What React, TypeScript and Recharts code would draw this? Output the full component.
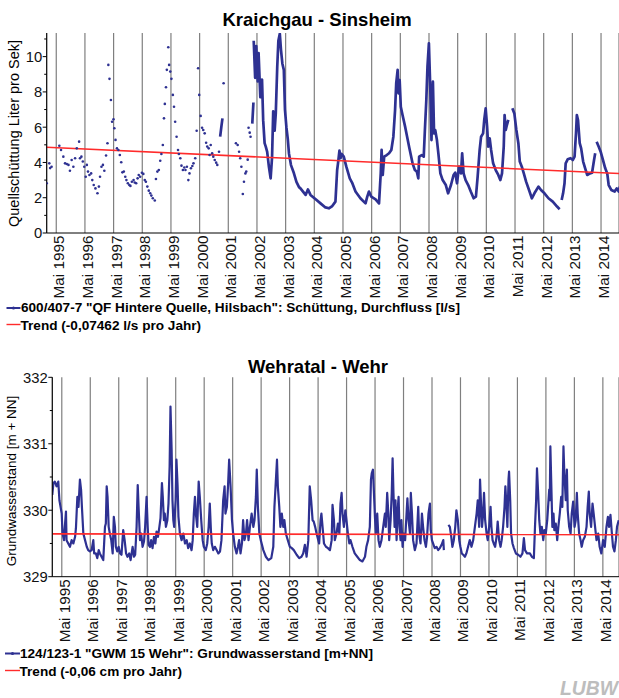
import React from 'react';
import { ComposedChart, Line, XAxis, YAxis, CartesianGrid } from 'recharts';

const BLUE = '#2e3192';
const RED = '#ff2b2b';
const GRID = '#7f7f7f';
const FONT = '"Liberation Sans", Arial, Helvetica, sans-serif';

// ---- axis / tick data ----
const tickYears = [1995, 1996, 1997, 1998, 1999, 2000, 2001, 2002, 2003, 2004, 2005, 2006, 2007, 2008, 2009, 2010, 2011, 2012, 2013, 2014];
const tickLabels = tickYears.map((y) => `Mai ${y}`);
const mayTicks = tickYears.map((y) => y + 4 / 12);

const kYTicks = [0, 1, 2, 3, 4, 5, 6, 7, 8, 9, 10, 11];
const kYLabelled = [0, 2, 4, 6, 8, 10];
const wYTicks = [329, 329.5, 330, 330.5, 331, 331.5, 332];
const wYLabelled = [329, 330, 331, 332];

// ---- Kraichgau - Sinsheim: single measurements (dots) ----
const kraichgauDots: [number, number][] = [
  [1995.0, 2.82], [1995.09, 3.95], [1995.12, 3.68], [1995.17, 3.76], [1995.44, 4.95], [1995.5, 4.71], [1995.58, 4.33],
  [1995.64, 3.95], [1995.7, 3.91], [1995.76, 3.86], [1995.81, 3.53], [1995.87, 4.14], [1995.93, 3.76], [1995.99, 4.24],
  [1996.05, 4.8], [1996.13, 5.18], [1996.16, 4.24], [1996.21, 4.33], [1996.26, 4.05], [1996.31, 3.76], [1996.36, 3.19],
  [1996.4, 3.86], [1996.44, 3.48], [1996.49, 3.29], [1996.55, 3.38], [1996.59, 3.0], [1996.64, 2.72], [1996.7, 2.53],
  [1996.77, 2.25], [1996.82, 2.63], [1996.86, 3.19], [1996.91, 3.76], [1996.96, 3.86], [1997.01, 3.53], [1997.07, 4.39],
  [1997.12, 5.09], [1997.15, 9.53], [1997.19, 8.74], [1997.24, 7.54], [1997.28, 6.31], [1997.33, 6.45], [1997.36, 5.94],
  [1997.4, 5.28], [1997.45, 4.8], [1997.5, 4.71], [1997.55, 4.42], [1997.6, 4.01], [1997.64, 3.44], [1997.69, 3.48],
  [1997.74, 3.19], [1997.78, 3.0], [1997.83, 2.82], [1997.88, 2.72], [1997.92, 2.67], [1997.97, 2.91], [1998.03, 3.0],
  [1998.07, 2.86], [1998.12, 2.82], [1998.17, 3.1], [1998.21, 3.29], [1998.26, 3.19], [1998.32, 3.42], [1998.37, 3.35],
  [1998.42, 3.0], [1998.46, 2.91], [1998.51, 2.63], [1998.56, 2.4], [1998.61, 2.25], [1998.65, 2.12], [1998.7, 1.97],
  [1998.77, 1.84], [1998.81, 3.06], [1998.86, 3.48], [1998.91, 3.57], [1998.96, 4.1], [1999.0, 4.48], [1999.05, 4.99],
  [1999.09, 6.5], [1999.12, 7.32], [1999.16, 8.26], [1999.19, 9.25], [1999.24, 10.53], [1999.27, 9.53], [1999.31, 9.15],
  [1999.35, 8.74], [1999.4, 7.83], [1999.44, 7.16], [1999.48, 6.31], [1999.53, 5.46], [1999.58, 4.71], [1999.61, 4.48],
  [1999.66, 4.24], [1999.7, 3.82], [1999.75, 3.57], [1999.8, 3.71], [1999.84, 3.57], [1999.89, 3.76], [1999.94, 3.0],
  [1999.98, 3.38], [2000.03, 3.67], [2000.08, 3.8], [2000.12, 3.95], [2000.18, 4.24], [2000.23, 5.8], [2000.28, 9.34],
  [2000.32, 7.83], [2000.37, 6.64], [2000.42, 5.97], [2000.46, 5.84], [2000.51, 5.65], [2000.56, 5.12], [2000.6, 4.9],
  [2000.65, 4.8], [2000.68, 4.42], [2000.72, 4.99], [2000.77, 4.52], [2000.81, 4.33], [2000.86, 4.14], [2000.91, 3.99],
  [2000.95, 3.86], [2001.01, 4.61], [2001.17, 8.49], [2001.6, 5.09], [2001.66, 4.99], [2001.71, 4.61], [2001.75, 4.24],
  [2001.79, 3.76], [2001.84, 2.21], [2001.88, 2.91], [2001.93, 3.38], [2001.96, 3.48], [2002.01, 4.16], [2002.04, 5.97],
  [2002.08, 5.69], [2002.11, 5.46],
];

// ---- Kraichgau - Sinsheim: continuous record (null = gap) ----
const kraichgauLine: [number, number | null][] = [
  [2001.05, 5.46], [2001.09, 6.0], [2001.13, 6.5], [2001.15, null],
  [2002.17, 6.2], [2002.21, 7.4], [2002.215, null],
  [2002.22, 10.9], [2002.27, 8.8], [2002.31, 10.6], [2002.36, 8.6], [2002.39, 10.2], [2002.45, 7.7], [2002.51, 8.7],
  [2002.55, 6.4], [2002.6, 5.1], [2002.64, 4.9], [2002.69, 4.6], [2002.75, 3.75], [2002.81, 3.1], [2002.86, 4.3],
  [2002.9, 6.9], [2002.95, 5.8], [2002.99, 6.8], [2003.04, 9.4], [2003.08, 10.9], [2003.13, 11.3], [2003.17, 10.4],
  [2003.22, 9.6], [2003.27, 9.25], [2003.31, 7.0], [2003.36, 6.0], [2003.41, 5.3], [2003.45, 4.5], [2003.52, 3.85],
  [2003.62, 3.4], [2003.71, 2.9], [2003.8, 2.6], [2003.85, 2.53], [2004.03, 2.16], [2004.11, 2.47], [2004.2, 2.16],
  [2004.38, 1.91], [2004.55, 1.68], [2004.72, 1.45], [2004.84, 1.4], [2004.96, 1.53], [2005.07, 1.78], [2005.13, 3.57],
  [2005.16, 3.95], [2005.21, 4.67], [2005.25, 4.24], [2005.29, 4.48], [2005.36, 4.33], [2005.45, 3.76], [2005.57, 3.1],
  [2005.65, 2.86], [2005.77, 2.35], [2005.94, 1.97], [2006.12, 1.68], [2006.18, 2.06], [2006.24, 2.35], [2006.32, 2.06],
  [2006.47, 1.91], [2006.59, 1.68], [2006.65, 3.38], [2006.68, 4.71], [2006.72, 3.29], [2006.77, 4.33], [2006.86, 4.42],
  [2006.94, 4.52], [2007.02, 4.71], [2007.09, 5.46], [2007.15, 6.97], [2007.19, 8.49], [2007.24, 9.25], [2007.27, 7.92],
  [2007.31, 8.67], [2007.35, 7.16], [2007.41, 6.69], [2007.5, 6.03], [2007.57, 5.46], [2007.65, 4.8], [2007.76, 3.95],
  [2007.84, 3.57], [2007.91, 3.48], [2007.96, 3.1], [2007.99, 4.33], [2008.08, 4.42], [2008.15, 4.33], [2008.19, 5.84],
  [2008.24, 7.54], [2008.28, 9.43], [2008.33, 10.76], [2008.38, 8.11], [2008.42, 5.27], [2008.47, 8.58], [2008.51, 5.65],
  [2008.55, 5.84], [2008.61, 5.27], [2008.66, 4.52], [2008.73, 3.38], [2008.81, 3.0], [2008.92, 2.72], [2009.0, 2.25],
  [2009.1, 2.72], [2009.19, 3.29], [2009.25, 3.42], [2009.31, 2.82], [2009.38, 3.76], [2009.45, 3.38], [2009.49, 4.52],
  [2009.54, 3.38], [2009.61, 3.0], [2009.7, 2.72], [2009.79, 2.35], [2009.89, 1.97], [2009.97, 2.06], [2010.03, 3.19],
  [2010.1, 4.71], [2010.15, 5.46], [2010.22, 5.65], [2010.26, 6.41], [2010.31, 7.07], [2010.36, 6.03], [2010.4, 4.9],
  [2010.45, 5.37], [2010.5, 4.71], [2010.57, 3.95], [2010.66, 3.57], [2010.75, 3.29], [2010.82, 3.0], [2010.88, 3.38],
  [2010.94, 4.9], [2010.97, 6.69], [2011.01, 5.84], [2011.05, 6.12], [2011.1, 6.41], [2011.17, null],
  [2011.24, 7.07], [2011.31, 6.78], [2011.38, 5.84], [2011.45, 5.09], [2011.5, 4.05], [2011.57, 3.76], [2011.64, 3.38],
  [2011.72, 2.91], [2011.84, 2.35], [2011.92, 1.97], [2012.01, 2.25], [2012.15, 2.63], [2012.24, 2.44], [2012.36, 2.25],
  [2012.5, 1.97], [2012.65, 1.78], [2012.8, 1.5], [2012.89, 1.35], [2012.92, null],
  [2012.96, 1.87], [2013.01, 2.25], [2013.06, 2.82], [2013.1, 3.95], [2013.17, 4.18], [2013.27, 4.24], [2013.35, 4.14],
  [2013.41, 4.33], [2013.46, 5.65], [2013.49, 6.69], [2013.53, 6.41], [2013.59, 5.09], [2013.64, 4.8], [2013.71, 4.05],
  [2013.78, 3.67], [2013.85, 3.29], [2013.95, 3.38], [2014.02, 3.42], [2014.09, 4.14], [2014.13, 4.52], [2014.155, null],
  [2014.18, 5.18], [2014.25, 4.9], [2014.32, 4.61], [2014.4, 4.14], [2014.48, 3.67], [2014.55, 3.38], [2014.6, 2.72],
  [2014.69, 2.44], [2014.81, 2.35], [2014.88, 2.53], [2014.95, 2.35], [2014.99, 2.63],
];

const kraichgauTrend: [number, number][] = [[1995.0, 4.86], [2014.96, 3.37]];

// ---- Wehratal - Wehr groundwater level ----
const wehrLine: [number, number | null][] = [
  [1995.0, 330.23], [1995.04, 330.41], [1995.09, 330.43], [1995.15, 330.36], [1995.21, 330.43], [1995.25, 330.15],
  [1995.27, 330.1], [1995.33, 329.95], [1995.36, 329.65], [1995.41, 329.55], [1995.44, 329.75], [1995.48, 329.98],
  [1995.5, 329.55], [1995.56, 329.5], [1995.62, 329.45], [1995.68, 329.55], [1995.74, 329.5], [1995.8, 329.6],
  [1995.83, 329.73], [1995.88, 330.2], [1995.92, 330.05], [1995.97, 330.46], [1996.01, 330.31], [1996.04, 330.05],
  [1996.09, 329.65], [1996.15, 329.55], [1996.21, 329.45], [1996.26, 329.4], [1996.32, 329.38], [1996.38, 329.4],
  [1996.44, 329.55], [1996.47, 329.35], [1996.53, 329.35], [1996.58, 329.28], [1996.63, 329.4], [1996.67, 329.35],
  [1996.73, 329.3], [1996.79, 329.25], [1996.85, 329.75], [1996.88, 329.8], [1996.91, 330.36], [1996.94, 330.2],
  [1996.98, 329.75], [1997.02, 329.65], [1997.07, 329.55], [1997.12, 329.35], [1997.16, 329.9], [1997.2, 329.75],
  [1997.23, 329.45], [1997.28, 329.38], [1997.33, 329.45], [1997.38, 329.35], [1997.43, 329.33], [1997.49, 329.7],
  [1997.54, 329.55], [1997.59, 329.35], [1997.64, 329.3], [1997.7, 329.35], [1997.75, 329.25], [1997.82, 329.45],
  [1997.87, 329.3], [1997.91, 329.33], [1997.96, 329.75], [1998.0, 330.38], [1998.03, 330.05], [1998.08, 329.55],
  [1998.12, 329.65], [1998.17, 329.45], [1998.22, 329.53], [1998.26, 329.75], [1998.31, 330.2], [1998.35, 329.75],
  [1998.38, 329.48], [1998.43, 329.45], [1998.47, 329.55], [1998.52, 329.43], [1998.57, 329.6], [1998.62, 329.5],
  [1998.66, 329.68], [1998.71, 329.6], [1998.76, 329.75], [1998.8, 329.88], [1998.85, 330.41], [1998.88, 330.2],
  [1998.92, 329.85], [1998.95, 329.95], [1998.99, 329.75], [1999.04, 329.85], [1999.08, 330.1], [1999.12, 330.66],
  [1999.15, 331.56], [1999.19, 330.91], [1999.22, 330.15], [1999.25, 329.85], [1999.28, 329.75], [1999.33, 330.15],
  [1999.36, 330.76], [1999.4, 330.36], [1999.43, 329.9], [1999.48, 329.65], [1999.54, 329.55], [1999.6, 329.65],
  [1999.66, 329.5], [1999.72, 329.55], [1999.77, 329.43], [1999.83, 329.5], [1999.89, 329.4], [1999.93, 329.55],
  [1999.97, 329.95], [2000.01, 330.2], [2000.04, 329.95], [2000.09, 329.75], [2000.14, 330.43], [2000.18, 330.2],
  [2000.23, 329.85], [2000.28, 329.55], [2000.32, 329.45], [2000.39, 329.4], [2000.44, 329.5], [2000.49, 329.75],
  [2000.53, 330.1], [2000.57, 329.7], [2000.6, 329.5], [2000.65, 329.4], [2000.71, 329.45], [2000.77, 329.4],
  [2000.83, 329.35], [2000.89, 329.38], [2000.94, 329.55], [2001.0, 330.15], [2001.05, 330.36], [2001.08, 329.95],
  [2001.13, 330.05], [2001.17, 330.36], [2001.21, 330.76], [2001.26, 330.36], [2001.31, 329.85], [2001.35, 329.65],
  [2001.41, 329.45], [2001.47, 329.35], [2001.52, 329.45], [2001.56, 329.55], [2001.61, 329.35], [2001.66, 329.5],
  [2001.7, 329.85], [2001.75, 329.55], [2001.8, 329.65], [2001.84, 329.85], [2001.89, 329.55], [2001.94, 329.75],
  [2002.0, 329.95], [2002.06, 329.75], [2002.1, 329.85], [2002.15, 330.2], [2002.18, 330.61], [2002.22, 330.05],
  [2002.27, 329.65], [2002.32, 329.55], [2002.41, 329.4], [2002.5, 329.3], [2002.59, 329.25], [2002.69, 329.28],
  [2002.76, 329.45], [2002.8, 330.05], [2002.84, 330.36], [2002.89, 330.76], [2002.92, 330.36], [2002.97, 330.05],
  [2003.01, 329.75], [2003.06, 329.95], [2003.11, 329.75], [2003.15, 329.85], [2003.2, 329.65], [2003.27, 329.55],
  [2003.34, 329.45], [2003.41, 329.43], [2003.48, 329.4], [2003.58, 329.33], [2003.67, 329.28], [2003.75, 329.3],
  [2003.81, 329.35], [2003.87, 329.48], [2003.93, 329.3], [2003.99, 329.55], [2004.04, 330.36], [2004.09, 330.15],
  [2004.14, 329.85], [2004.18, 329.83], [2004.23, 329.75], [2004.28, 329.65], [2004.34, 329.55], [2004.37, 329.5],
  [2004.42, 329.85], [2004.45, 329.95], [2004.49, 329.75], [2004.54, 329.5], [2004.61, 329.45], [2004.68, 329.43],
  [2004.75, 329.4], [2004.81, 329.55], [2004.84, 330.08], [2004.89, 329.85], [2004.92, 329.55], [2004.98, 329.65],
  [2005.03, 329.8], [2005.08, 329.65], [2005.12, 330.1], [2005.16, 330.26], [2005.19, 329.95], [2005.24, 329.75],
  [2005.29, 330.0], [2005.33, 329.85], [2005.38, 329.65], [2005.43, 329.5], [2005.47, 329.55], [2005.54, 329.45],
  [2005.62, 329.35], [2005.71, 329.3], [2005.8, 329.25], [2005.89, 329.23], [2005.98, 329.3], [2006.03, 329.45],
  [2006.09, 329.55], [2006.15, 329.75], [2006.19, 330.46], [2006.22, 330.56], [2006.26, 330.61], [2006.29, 330.31],
  [2006.33, 329.9], [2006.36, 329.65], [2006.41, 329.95], [2006.455, 329.55], [2006.5, 329.45], [2006.56, 329.55],
  [2006.62, 329.75], [2006.68, 329.95], [2006.71, 329.75], [2006.76, 330.26], [2006.8, 329.95], [2006.83, 329.55],
  [2006.88, 329.85], [2006.92, 330.26], [2006.95, 330.78], [2006.98, 330.26], [2007.02, 329.75], [2007.05, 330.15],
  [2007.09, 329.55], [2007.12, 329.95], [2007.16, 330.2], [2007.19, 329.75], [2007.23, 329.55], [2007.26, 329.85],
  [2007.3, 329.45], [2007.34, 329.65], [2007.39, 329.55], [2007.44, 329.95], [2007.47, 330.18], [2007.51, 329.85],
  [2007.56, 329.65], [2007.59, 330.26], [2007.63, 329.95], [2007.67, 329.55], [2007.73, 329.4], [2007.79, 329.5],
  [2007.85, 330.05], [2007.88, 329.65], [2007.93, 329.5], [2007.98, 329.95], [2008.02, 329.75], [2008.07, 329.55],
  [2008.12, 329.45], [2008.16, 329.6], [2008.21, 329.95], [2008.26, 330.1], [2008.29, 329.7], [2008.33, 329.55],
  [2008.37, 329.5], [2008.43, 329.43], [2008.49, 329.45], [2008.55, 329.4], [2008.61, 329.43], [2008.67, 329.48],
  [2008.73, 329.55], [2008.75, 329.4], [2008.83, null],
  [2008.91, 329.78], [2008.96, 329.75], [2009.01, 329.6], [2009.05, 329.45], [2009.1, 329.55], [2009.15, 329.75],
  [2009.19, 330.0], [2009.24, 329.85], [2009.29, 329.55], [2009.33, 329.45], [2009.38, 329.35], [2009.43, 329.33],
  [2009.49, 329.3], [2009.54, 329.35], [2009.6, 329.45], [2009.66, 329.55], [2009.72, 329.45], [2009.78, 329.55],
  [2009.84, 329.75], [2009.9, 329.95], [2009.94, 330.15], [2009.99, 329.75], [2010.02, 330.46], [2010.06, 330.05],
  [2010.09, 329.75], [2010.13, 329.95], [2010.16, 330.26], [2010.2, 329.85], [2010.25, 329.65], [2010.29, 329.55],
  [2010.34, 329.75], [2010.39, 330.05], [2010.42, 329.75], [2010.46, 329.55], [2010.5, 329.5], [2010.55, 329.45],
  [2010.6, 329.6], [2010.64, 329.83], [2010.69, 329.55], [2010.74, 329.45], [2010.78, 329.55], [2010.83, 329.75],
  [2010.88, 330.05], [2010.91, 330.36], [2010.95, 330.05], [2010.98, 329.75], [2011.02, 330.46], [2011.04, 330.58],
  [2011.08, 330.15], [2011.11, 329.65], [2011.16, 329.5], [2011.21, 329.43], [2011.28, 329.35], [2011.36, 329.33],
  [2011.44, 329.3], [2011.51, 329.35], [2011.56, 329.58], [2011.6, 329.4], [2011.67, 329.35], [2011.77, 329.35],
  [2011.84, 329.3], [2011.91, 329.28], [2011.95, 329.75], [2011.99, 330.15], [2012.02, 330.63], [2012.06, 330.26],
  [2012.1, 329.85], [2012.14, 329.65], [2012.19, 329.75], [2012.24, 329.55], [2012.28, 329.7], [2012.33, 329.65],
  [2012.38, 329.85], [2012.41, 330.05], [2012.45, 330.31], [2012.47, 330.15], [2012.49, 330.96], [2012.53, 330.26],
  [2012.56, 329.75], [2012.6, 329.95], [2012.63, 329.7], [2012.68, 329.8], [2012.73, 329.55], [2012.77, 329.75],
  [2012.82, 329.95], [2012.87, 330.2], [2012.91, 330.05], [2012.95, 330.96], [2012.98, 330.56], [2013.03, 330.15],
  [2013.07, 330.61], [2013.1, 330.0], [2013.15, 329.75], [2013.2, 329.65], [2013.24, 329.95], [2013.29, 330.13],
  [2013.34, 329.75], [2013.38, 329.85], [2013.42, 330.26], [2013.45, 329.95], [2013.5, 329.65], [2013.55, 329.55],
  [2013.59, 329.45], [2013.64, 329.55], [2013.7, 329.6], [2013.76, 329.75], [2013.8, 330.05], [2013.84, 330.28],
  [2013.87, 329.95], [2013.92, 329.75], [2013.97, 330.1], [2014.01, 329.95], [2014.06, 329.75], [2014.11, 329.55],
  [2014.17, 329.65], [2014.22, 329.45], [2014.28, 329.35], [2014.34, 329.55], [2014.4, 329.45], [2014.46, 329.75],
  [2014.51, 329.9], [2014.55, 329.75], [2014.6, 329.93], [2014.65, 329.65], [2014.69, 329.45], [2014.74, 329.38],
  [2014.79, 329.55], [2014.83, 329.75], [2014.89, 329.85],
];

const wehrTrend: [number, number][] = [[1995.0, 329.645], [2014.9, 329.633]];

const toRows = (arr: [number, number | null][]) => arr.map(([t, v]) => ({ t, v }));

const kDotsData = toRows(kraichgauDots);
const kLineData = toRows(kraichgauLine);
const kTrendData = toRows(kraichgauTrend);
const wLineData = toRows(wehrLine);
const wTrendData = toRows(wehrTrend);

const XTick = (props: any) => {
  const { x, y, index } = props;
  return (
    <g transform={`translate(${x + 8},${y + 2.5}) rotate(-90)`}>
      <text x={0} y={0} textAnchor="end" fontSize={15.3} fontFamily={FONT} fill="#111">
        {tickLabels[index]}
      </text>
    </g>
  );
};

const makeYTick = (labelled: number[]) => (props: any) => {
  const { x, y, payload } = props;
  const major = labelled.indexOf(payload.value) >= 0;
  return (
    <g>
      <line x1={x - (major ? 4 : 2.5)} x2={x} y1={y} y2={y} stroke="#000" strokeWidth={1} />
      {major && (
        <text x={x - 4.5} y={y} dy="0.36em" textAnchor="end" fontSize={14.8} fontFamily={FONT} fill="#111">
          {payload.value}
        </text>
      )}
    </g>
  );
};

const KYTick = makeYTick(kYLabelled);
const WYTick = makeYTick(wYLabelled);

export default function App() {
  return (
    <div style={{ position: 'absolute', left: 0, top: 0, width: 619, height: 698, background: '#fff', fontFamily: FONT }}>
      <div style={{ position: 'absolute', left: 0, top: 0 }}>
        <ComposedChart width={619} height={340} margin={{ top: 33, right: 0, bottom: 17, left: 0 }}>
          <CartesianGrid horizontal={false} stroke={GRID} strokeWidth={1.2} />
          <XAxis
            type="number"
            dataKey="t"
            domain={[1995, 2014.96]}
            allowDataOverflow
            ticks={mayTicks}
            interval={0}
            tick={<XTick />}
            tickSize={0}
            tickMargin={0}
            tickLine={false}
            height={90}
            axisLine={{ stroke: '#000', strokeWidth: 1 }}
          />
          <YAxis
            type="number"
            domain={[0, 11.34]}
            allowDataOverflow
            ticks={kYTicks}
            interval={0}
            tick={<KYTick />}
            tickSize={0}
            tickMargin={0}
            tickLine={false}
            width={46.7}
            axisLine={{ stroke: '#000', strokeWidth: 1 }}
          />
          <Line data={kDotsData} dataKey="v" stroke="none" isAnimationActive={false}
            dot={{ r: 1.3, fill: BLUE, stroke: 'none' }} activeDot={false} />
          <Line data={kLineData} dataKey="v" stroke={BLUE} strokeWidth={2.7} dot={false} activeDot={false}
            isAnimationActive={false} strokeLinejoin="round" />
          <Line data={kTrendData} dataKey="v" stroke={RED} strokeWidth={1.6} dot={false} activeDot={false}
            isAnimationActive={false} />
        </ComposedChart>
      </div>
      <div style={{ position: 'absolute', left: 0, top: 340 }}>
        <ComposedChart width={619} height={358} margin={{ top: 37.3, right: 0, bottom: 31.3, left: 0 }}>
          <CartesianGrid horizontal={false} stroke={GRID} strokeWidth={1.2} />
          <XAxis
            type="number"
            dataKey="t"
            domain={[1995, 2014.9]}
            allowDataOverflow
            ticks={mayTicks}
            interval={0}
            tick={<XTick />}
            tickSize={0}
            tickMargin={0}
            tickLine={false}
            height={90}
            axisLine={{ stroke: '#000', strokeWidth: 1 }}
          />
          <YAxis
            type="number"
            domain={[329, 332]}
            allowDataOverflow
            ticks={wYTicks}
            interval={0}
            tick={<WYTick />}
            tickSize={0}
            tickMargin={0}
            tickLine={false}
            width={52.3}
            axisLine={{ stroke: '#000', strokeWidth: 1 }}
          />
          <Line data={wLineData} dataKey="v" stroke={BLUE} strokeWidth={2.2} dot={false} activeDot={false}
            isAnimationActive={false} strokeLinejoin="round" />
          <Line data={wTrendData} dataKey="v" stroke={RED} strokeWidth={1.6} dot={false} activeDot={false}
            isAnimationActive={false} />
        </ComposedChart>
      </div>
      <svg width={619} height={698} style={{ position: 'absolute', left: 0, top: 0, pointerEvents: 'none' }}>
        <g fontFamily={FONT} fill="#000">
          <text x={317} y={25.5} textAnchor="middle" fontSize={18.5} fontWeight="bold">Kraichgau - Sinsheim</text>
          <text x={318} y={373} textAnchor="middle" fontSize={18.5} fontWeight="bold">Wehratal - Wehr</text>
          <text transform="translate(19,133.5) rotate(-90)" textAnchor="middle" fontSize={14.5}>Quellschüttung Liter pro Sek]</text>
          <text transform="translate(15.5,481) rotate(-90)" textAnchor="middle" fontSize={13.5}>Grundwasserstand [m + NN]</text>

          <line x1={6.5} x2={20.5} y1={308} y2={308} stroke={BLUE} strokeWidth={2} />
          <circle cx={13.5} cy={308} r={1.6} fill={BLUE} />
          <text x={21} y={312.3} fontSize={13.6} fontWeight="bold">600/407-7 "QF Hintere Quelle, Hilsbach": Schüttung, Durchfluss [l/s]</text>
          <line x1={6.5} x2={20.5} y1={324.5} y2={324.5} stroke={RED} strokeWidth={1.4} />
          <text x={20.5} y={330} fontSize={13.6} fontWeight="bold">Trend (-0,07462 l/s pro Jahr)</text>

          <line x1={5} x2={20} y1={653.5} y2={653.5} stroke={BLUE} strokeWidth={2} />
          <circle cx={12.5} cy={653.5} r={1.6} fill={BLUE} />
          <text x={20} y={658} fontSize={13.6} fontWeight="bold">124/123-1 "GWM 15 Wehr": Grundwasserstand [m+NN]</text>
          <line x1={5} x2={20} y1={670.5} y2={670.5} stroke={RED} strokeWidth={1.4} />
          <text x={19.5} y={676} fontSize={13.6} fontWeight="bold">Trend (-0,06 cm pro Jahr)</text>

          <text x={560} y={695} fontSize={20} fontWeight="bold" fontStyle="italic" fill="#bdbdbd"
            textLength={58} lengthAdjust="spacingAndGlyphs">LUBW</text>
        </g>
      </svg>
    </div>
  );
}
